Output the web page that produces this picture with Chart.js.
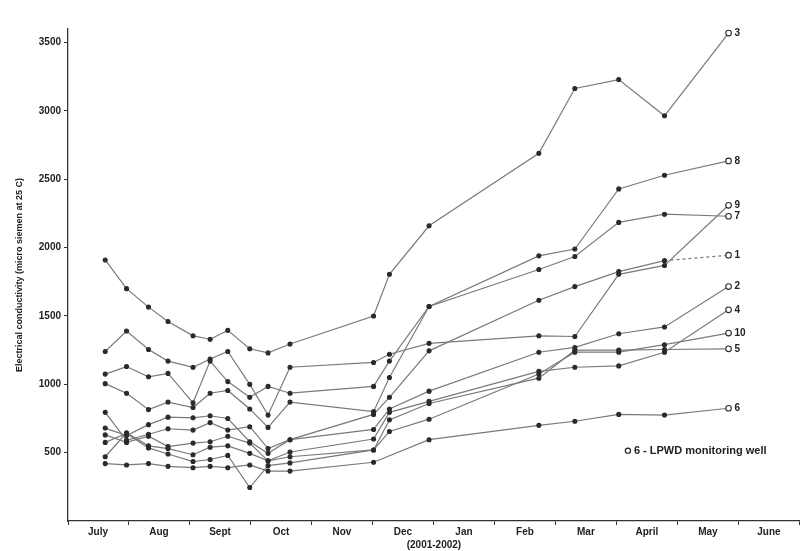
<!DOCTYPE html>
<html>
<head>
<meta charset="utf-8">
<script src="https://cdn.jsdelivr.net/npm/chart.js@4"></script>
<style>
  html, body { margin: 0; padding: 0; background: #fff; }
  #wrap { width: 805px; height: 551px; position: relative; }
</style>
</head>
<body>
<div id="wrap"><canvas id="ecChart"></canvas></div>
<script>
// ---- 1. DATA --------------------------------
// month labels on the x axis (July 2001 -> June 2002)
const months = ["July", "Aug", "Sept", "Oct", "Nov", "Dec", "Jan", "Feb", "Mar", "April", "May", "June"];

// sampling dates, in months since 1 July 2001
const sampleMonths = [0.61, 0.96, 1.32, 1.64, 2.05, 2.33, 2.62, 2.98, 3.28, 3.64, 5.01, 5.27, 5.92, 7.72, 8.31, 9.03, 9.78, 10.83];

// y axis tick labels
const yTicks = [500, 1000, 1500, 2000, 2500, 3000, 3500];

// well numbers, written at the end of each line
const wellNames = ["3", "8", "9", "7", "1", "2", "4", "10", "5", "6"];

// electrical conductivity readings per well (micro siemen at 25 C)
const well3  = [1910, 1700, 1565, 1460, 1355, 1330, 1395, 1260, 1230, 1295, 1500, 1805, 2160, 2690, 3165, 3230, 2965, 3570];
const well8  = [1075, 1130, 1055, 1080, 865, 1170, 1020, 905, 985, 935, 985, 1170, 1570, 1940, 1990, 2430, 2530, 2635];
const well9  = [1240, 1390, 1255, 1170, 1125, 1185, 1240, 1000, 775, 1125, 1160, 1220, 1300, 1355, 1350, 1805, 1870, 2310];
const well7  = [1005, 935, 815, 870, 830, 935, 955, 820, 685, 870, 800, 1050, 1570, 1840, 1935, 2185, 2245, 2230];
const well1  = [795, 590, 635, 675, 665, 720, 665, 690, 530, 595, 780, 905, 1245, 1615, 1715, 1825, 1905, 1945];
const well2  = [680, 625, 705, 760, 755, 770, 750, 580, 495, 595, 670, 820, 950, 1235, 1270, 1370, 1420, 1715];
const well4  = [630, 575, 620, 545, 570, 580, 620, 570, 440, 505, 600, 795, 875, 1095, 1125, 1135, 1235, 1545];
const well10 = [470, 645, 550, 530, 485, 540, 550, 495, 440, 470, 520, 655, 745, 1075, 1235, 1235, 1290, 1375];
const well5  = [575, 640, 535, 490, 435, 450, 480, 245, 405, 425, 520, 740, 860, 1045, 1250, 1250, 1255, 1260];
const well6  = [420, 410, 420, 400, 390, 400, 390, 410, 365, 365, 430, null, 595, 700, 730, 780, 775, 825];

const wellValues = [well3, well8, well9, well7, well1, well2, well4, well10, well5, well6];

// ---- 2. DATASETS ----------------------------
const lastIndex = sampleMonths.length - 1;

const datasets = wellNames.map((name, k) => ({
  label: "Well " + name,
  data: sampleMonths.map((m, i) => ({ x: m, y: wellValues[k][i] })),
  borderColor: "#7a7a7a",
  borderWidth: 1.2,
  pointRadius: ctx => (ctx.dataIndex === lastIndex ? 2.8 : 2),
  pointBorderWidth: 1.1,
  pointBorderColor: "#2a2a2a",
  pointBackgroundColor: ctx => (ctx.dataIndex === lastIndex ? "#fff" : "#2a2a2a"),
  spanGaps: true,
  tension: 0,
  // well 1 ends with a dashed stretch
  segment: name === "1" ? { borderDash: ctx => (ctx.p1DataIndex === lastIndex ? [3, 3] : undefined) } : undefined,
}));

// ---- 3. LABEL PLUGIN ------------------------
// writes the well number after each line's last point, plus the note for well 6
const endLabels = {
  id: "endLabels",
  afterDatasetsDraw(chart) {
    const { ctx, chartArea, scales } = chart;
    ctx.save();
    ctx.fillStyle = "#222";
    ctx.font = "bold 10px 'Liberation Sans', Arial, sans-serif";
    ctx.textBaseline = "middle";
    ctx.textAlign = "left";
    chart.data.datasets.forEach((ds, k) => {
      const meta = chart.getDatasetMeta(k);
      const pt = meta.data[lastIndex];
      if (pt) ctx.fillText(wellNames[k], pt.x + 6, pt.y);
    });

    // note in the lower right corner
    const ny = scales.y.getPixelForValue(500) - 2;
    const nx = chartArea.right - 172;
    ctx.beginPath();
    ctx.arc(nx, ny, 2.6, 0, Math.PI * 2);
    ctx.fillStyle = "#fff";
    ctx.fill();
    ctx.strokeStyle = "#222";
    ctx.lineWidth = 1.2;
    ctx.stroke();
    ctx.fillStyle = "#222";
    ctx.font = "bold 11px 'Liberation Sans', Arial, sans-serif";
    ctx.fillText("6 - LPWD monitoring well", nx + 6, ny);
    ctx.restore();
  },
};

// ---- 4. CHART -------------------------------
new Chart(document.getElementById("ecChart").getContext("2d"), {
  type: "line",
  data: { datasets },
  plugins: [endLabels],
  options: {
    responsive: true,
    maintainAspectRatio: false,
    animation: false,
    layout: { padding: { top: 29, right: -5, left: 14, bottom: 0 } },
    plugins: {
      legend: { display: false },
      tooltip: { enabled: false },
    },
    scales: {
      x: {
        type: "linear",
        min: 0,
        max: 12,
        border: { color: "#333", width: 1.3 },
        grid: { drawOnChartArea: false, tickLength: 4, color: "#333" },
        afterBuildTicks: scale => {
          scale.ticks = months.map((m, i) => ({ value: i })).concat([{ value: 12 }]);
        },
        ticks: {
          autoSkip: false,
          maxRotation: 0,
          padding: 1,
          labelOffset: 30,
          color: "#222",
          font: { family: "'Liberation Sans', Arial, sans-serif", size: 10, weight: "bold" },
          callback: v => months[v] ?? "",
        },
        title: {
          display: true,
          text: "(2001-2002)",
          color: "#222",
          padding: { top: 0, bottom: 0 },
          font: { family: "'Liberation Sans', Arial, sans-serif", size: 10, weight: "bold" },
        },
      },
      y: {
        min: 0,
        max: 3600,
        border: { color: "#333", width: 1.3 },
        grid: { drawOnChartArea: false, tickLength: 4, color: "#333" },
        afterBuildTicks: scale => {
          scale.ticks = yTicks.map(v => ({ value: v }));
        },
        afterFit: scale => {
          scale.width = 54;
        },
        ticks: {
          padding: 3,
          color: "#222",
          font: { family: "'Liberation Sans', Arial, sans-serif", size: 10, weight: "bold" },
          callback: v => String(v),
        },
        title: {
          display: true,
          text: "Electrical conductivity (micro siemen at 25 C)",
          color: "#222",
          padding: { top: 0, bottom: 4 },
          font: { family: "'Liberation Sans', Arial, sans-serif", size: 9, weight: "bold" },
        },
      },
    },
  },
});
</script>
</body>
</html>
